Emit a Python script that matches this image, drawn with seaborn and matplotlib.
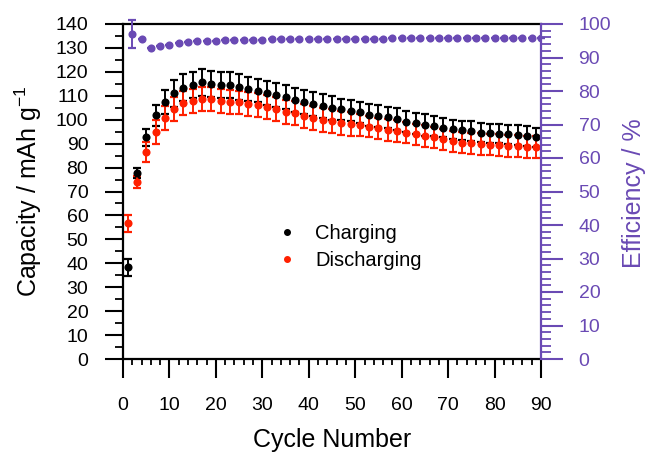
import numpy as np
import matplotlib
matplotlib.use("Agg")
import matplotlib.pyplot as plt
from matplotlib.ticker import MultipleLocator
from matplotlib.lines import Line2D
import seaborn as sns


# charge / discharge measured on odd cycles
cycles_cd = [1, 3, 5, 7, 9, 11, 13, 15, 17, 19, 21, 23, 25, 27, 29,
             31, 33, 35, 37, 39, 41, 43, 45, 47, 49, 51, 53, 55, 57, 59,
             61, 63, 65, 67, 69, 71, 73, 75, 77, 79, 81, 83, 85, 87, 89]

charging = [38.3, 77.8, 92.6, 101.8, 107.5, 111.0, 113.4, 114.6, 115.6, 115.0,
            114.6, 114.4, 113.8, 112.8, 112.2, 111.0, 110.3, 109.4, 108.2, 107.4,
            106.4, 105.7, 105.0, 104.3, 103.8, 103.1, 102.0, 101.5, 101.0, 100.4,
            99.2, 98.5, 97.8, 97.4, 96.7, 96.0, 95.6, 95.3, 94.6, 94.3,
            94.2, 94.0, 93.6, 93.2, 92.6]

charging_err = [3.5, 2.0, 3.5, 4.5, 5.0, 5.5, 5.5, 5.5, 5.5, 5.5,
                5.5, 5.5, 5.5, 5.0, 5.0, 5.0, 5.0, 5.0, 5.0, 5.0,
                5.0, 5.0, 5.0, 4.5, 4.5, 4.5, 4.5, 4.5, 4.5, 4.5,
                4.5, 4.5, 4.5, 4.0, 4.0, 4.0, 4.0, 4.0, 4.0, 4.0,
                4.0, 4.0, 4.0, 4.0, 4.0]

discharging = [56.7, 74.1, 86.5, 95.0, 100.6, 104.3, 106.8, 107.9, 108.6, 108.8,
               107.9, 107.5, 107.2, 106.6, 106.1, 105.4, 104.3, 103.3, 102.7, 101.5,
               100.7, 99.9, 99.5, 98.8, 98.2, 97.7, 97.1, 96.4, 95.7, 95.3,
               94.6, 93.9, 93.2, 92.6, 91.8, 90.9, 90.4, 90.1, 89.8, 89.6,
               89.4, 89.0, 89.0, 88.7, 88.5]

discharging_err = [3.5, 2.5, 4.0, 5.0, 5.0, 5.0, 5.0, 5.0, 5.0, 5.0,
                   5.0, 5.0, 5.0, 5.0, 5.0, 5.0, 5.0, 5.0, 5.0, 5.0,
                   5.0, 5.0, 5.0, 5.0, 5.0, 4.5, 4.5, 4.5, 4.5, 4.5,
                   4.5, 4.5, 4.5, 4.5, 4.5, 4.5, 4.5, 4.5, 4.5, 4.5,
                   4.5, 4.5, 4.5, 4.5, 4.5]

# coulombic efficiency on even cycles
cycles_eff = [2, 4, 6, 8, 10, 12, 14, 16, 18, 20, 22, 24, 26, 28, 30,
              32, 34, 36, 38, 40, 42, 44, 46, 48, 50, 52, 54, 56, 58, 60,
              62, 64, 66, 68, 70, 72, 74, 76, 78, 80, 82, 84, 86, 88, 90]

efficiency = [97.0, 95.4, 92.9, 93.3, 93.7, 94.2, 94.6, 94.8, 95.0, 95.0,
              95.1, 95.2, 95.2, 95.3, 95.3, 95.4, 95.4, 95.4, 95.5, 95.5,
              95.5, 95.5, 95.6, 95.6, 95.6, 95.6, 95.6, 95.6, 95.7, 95.7,
              95.7, 95.7, 95.7, 95.7, 95.7, 95.7, 95.7, 95.7, 95.7, 95.7,
              95.7, 95.7, 95.7, 95.7, 95.7]

efficiency_err = [4.2] + [0.0] * 44


PURPLE = "#6a4ab4"
RED = "#ff2000"


sns.set_style("ticks")
plt.rcParams["font.family"] = ["Liberation Sans", "DejaVu Sans"]
plt.rcParams["text.color"] = "black"
plt.rcParams["axes.labelcolor"] = "black"
plt.rcParams["xtick.color"] = "black"
plt.rcParams["ytick.color"] = "black"


fig = plt.figure(figsize=(6.49, 4.58), dpi=100)
ax = fig.add_axes([123 / 649, 1 - 359 / 458, 418 / 649, 335 / 458])
ax2 = ax.twinx()


# capacity
ax.errorbar(cycles_cd, charging, yerr=charging_err, fmt="none",
            ecolor="black", elinewidth=1.4, capsize=2.7, capthick=1.6, zorder=2)
ax.errorbar(cycles_cd, discharging, yerr=discharging_err, fmt="none",
            ecolor=RED, elinewidth=1.4, capsize=2.7, capthick=1.6, zorder=3)
sns.scatterplot(x=cycles_cd, y=discharging, ax=ax, color=RED, s=34,
                linewidth=0, zorder=4)
sns.scatterplot(x=cycles_cd, y=charging, ax=ax, color="black", s=34,
                linewidth=0, zorder=5)

# efficiency
eb = ax2.errorbar(cycles_eff, efficiency, yerr=efficiency_err, fmt="none",
                  ecolor=PURPLE, elinewidth=1.4, capsize=2.7, capthick=1.6)
for part in eb.lines[1] + eb.lines[2]:
    part.set_clip_on(False)
sns.scatterplot(x=cycles_eff, y=efficiency, ax=ax2, color=PURPLE, s=34,
                linewidth=0)


ax.set_xlim(0, 90)
ax.set_ylim(0, 140)
ax2.set_ylim(0, 100)

ax.xaxis.set_major_locator(MultipleLocator(10))
ax.xaxis.set_minor_locator(MultipleLocator(2))
ax.yaxis.set_major_locator(MultipleLocator(10))
ax.yaxis.set_minor_locator(MultipleLocator(5))
ax2.yaxis.set_major_locator(MultipleLocator(10))
ax2.yaxis.set_minor_locator(MultipleLocator(2))

ax.tick_params(axis="both", which="major", direction="out", length=13,
               width=1.5, labelsize=14, pad=12, color="black",
               labelcolor="black")
ax.tick_params(axis="both", which="minor", direction="out", length=6,
               width=1.3, color="black")
ax.tick_params(axis="x", which="major", length=14, pad=13)
ax.tick_params(axis="x", which="minor", length=4.5)
ax2.tick_params(axis="y", which="major", direction="out", length=16,
                width=1.5, labelsize=14, pad=11, color=PURPLE,
                labelcolor=PURPLE)
ax2.tick_params(axis="y", which="minor", direction="out", length=7.5,
                width=1.3, color=PURPLE)

for sp in ["left", "bottom", "top"]:
    ax.spines[sp].set_linewidth(1.6)
    ax.spines[sp].set_color("black")
for sp in ["left", "bottom", "top"]:
    ax2.spines[sp].set_visible(False)
ax2.spines["right"].set_linewidth(1.6)
ax2.spines["right"].set_color(PURPLE)
ax.spines["right"].set_visible(False)


ax.set_xlabel("Cycle Number", fontsize=18)
ax.xaxis.set_label_coords(0.5, -0.205)
ax.set_ylabel("Capacity / mAh g$^{\\mathregular{-1}}$", fontsize=18)
ax.yaxis.set_label_coords(-0.19, 0.5)
ax2.set_ylabel("Efficiency / %", fontsize=18, color=PURPLE)
ax2.yaxis.set_label_coords(1.193, 0.495)


# legend
handles = [
    Line2D([], [], marker="o", linestyle="none", color="black", markersize=4),
    Line2D([], [], marker="o", linestyle="none", color=RED, markersize=4),
]
ax.legend(handles, ["Charging", "Discharging"],
          loc="upper left", bbox_to_anchor=(277 / 649, 1 - 224 / 458),
          bbox_transform=fig.transFigure, frameon=False, fontsize=14.5,
          handlelength=1.0, handletextpad=0.9, labelspacing=0.38,
          borderpad=0, borderaxespad=0)


fig.savefig("out.png", dpi=100)
